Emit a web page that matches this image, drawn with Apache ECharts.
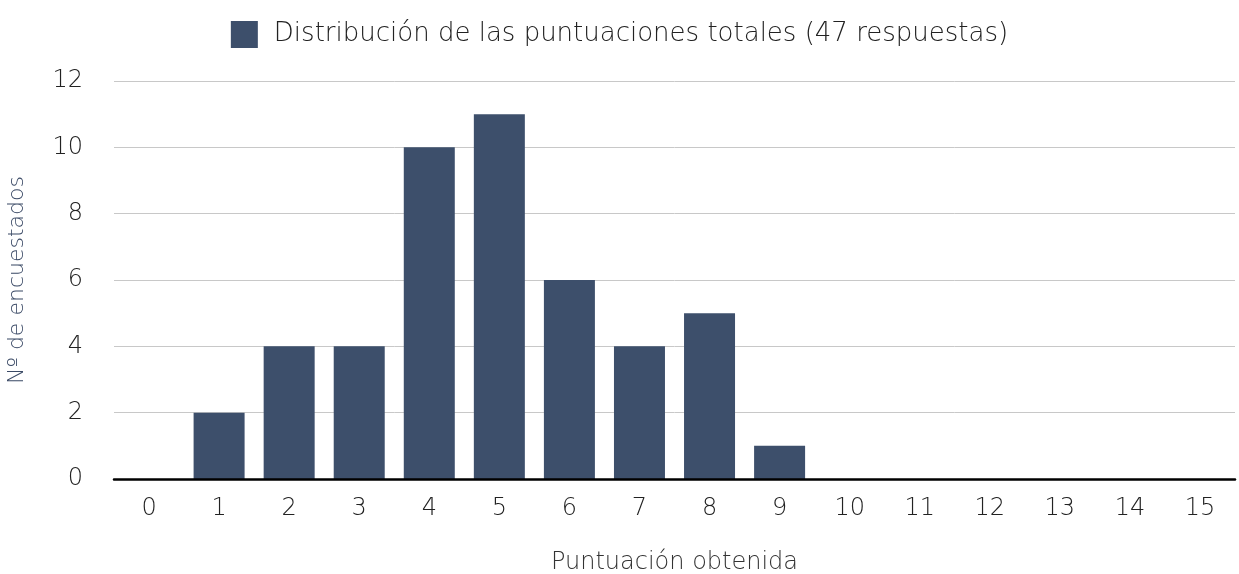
<!DOCTYPE html>
<html>
<head>
<meta charset="utf-8">
<script src="https://cdn.jsdelivr.net/npm/echarts@6/dist/echarts.min.js"></script>
<style>html,body{margin:0;padding:0;background:#fff}#c{width:1239px;height:574px}</style>
</head>
<body>
<div id="c"></div>
<script>
const categories = ['0','1','2','3','4','5','6','7','8','9','10','11','12','13','14','15'];
const values = [0,2,4,4,10,11,6,4,5,1,0,0,0,0,0,0];
const seriesName = 'Distribución de las puntuaciones totales (47 respuestas)';
const xName = 'Puntuación obtenida';
const yName = 'Nº de encuestados';
const FONT = "'DejaVu Sans', sans-serif";
const chart = echarts.init(document.getElementById('c'));
chart.setOption({
  animation: false,
  textStyle: {fontFamily: FONT},
  legend: {
    top: 16, left: 'center',
    itemWidth: 27, itemHeight: 27, itemGap: 16,
    icon: 'rect',
    textStyle: {fontSize: 26, color: '#222', fontFamily: FONT, fontWeight: 200, padding: [0, 0, 0, 11]}
  },
  grid: {left: 114, right: 4, top: 81, bottom: 95, containLabel: false, outerBoundsMode: 'none'},
  xAxis: {
    type: 'category', data: categories,
    name: xName, nameLocation: 'middle', nameGap: 72,
    nameTextStyle: {fontSize: 24, color: '#333', fontFamily: FONT, fontWeight: 200},
    axisLine: {lineStyle: {color: '#000', width: 2.5}},
    axisTick: {show: false},
    axisLabel: {fontSize: 24, color: '#222', margin: 18, fontFamily: FONT, fontWeight: 200},
    z: 10
  },
  yAxis: {
    type: 'value', min: 0, max: 12, interval: 2,
    name: yName, nameLocation: 'middle', nameGap: 86, nameRotate: 90,
    nameTextStyle: {fontSize: 22, color: '#3b4a66', fontFamily: FONT, fontWeight: 200},
    axisLine: {show: false}, axisTick: {show: false},
    axisLabel: {fontSize: 24, color: '#222', margin: 31, fontFamily: FONT, fontWeight: 200},
    splitLine: {lineStyle: {color: '#c8c8c8', width: 1}}
  },
  series: [{
    name: seriesName, type: 'bar', data: values,
    barWidth: 51,
    itemStyle: {color: '#3d4f6b'}
  }]
});
</script>
</body>
</html>
